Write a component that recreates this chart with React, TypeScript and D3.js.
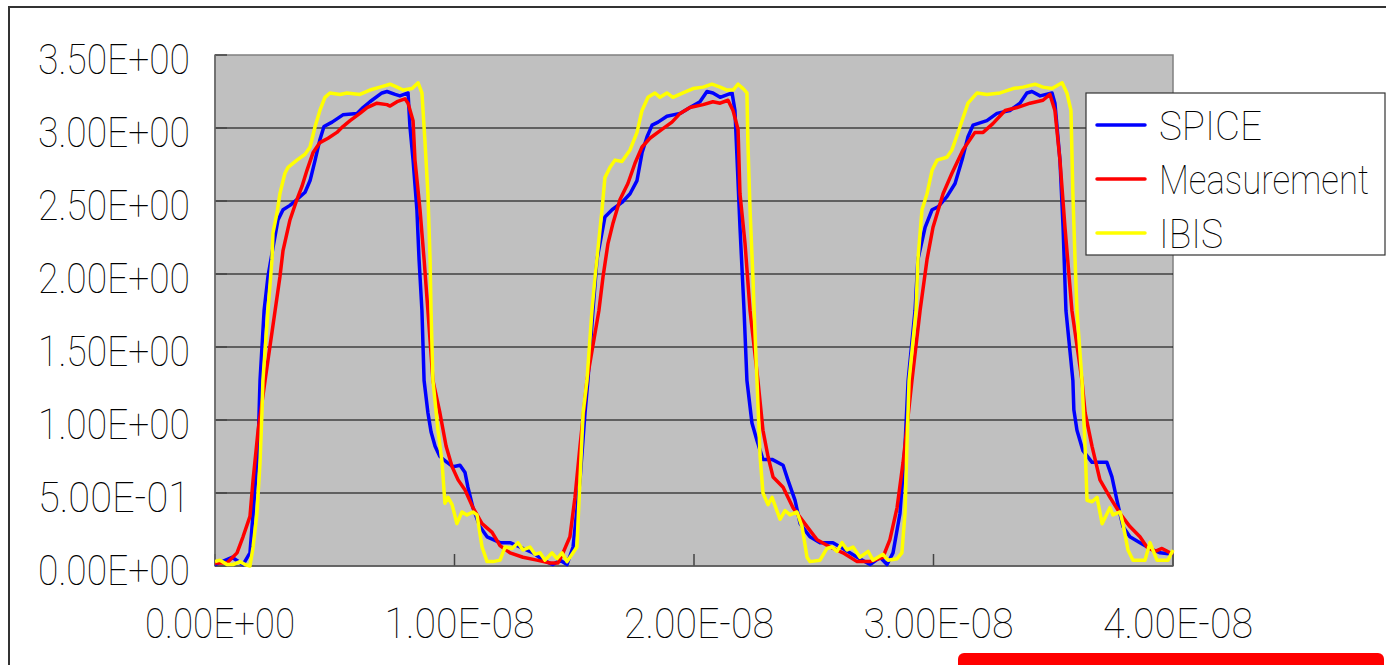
import React from "react";
import * as d3 from "d3";

// time in ns, voltage in V
const spice: [number, number][] = [
  [0, 0.01], [0.71, 0.06], [1.17, 0.01], [1.46, 0.09], [1.59, 0.36], [1.8, 0.82], [1.88, 1.27], [2.05, 1.75], [2.21, 1.98], [2.42, 2.18],
  [2.63, 2.37], [2.84, 2.44], [3.13, 2.47], [3.42, 2.51], [3.76, 2.56], [3.97, 2.64], [4.18, 2.78], [4.38, 2.92], [4.55, 3.01], [4.89, 3.04],
  [5.34, 3.09], [5.93, 3.1], [6.18, 3.14], [6.47, 3.18], [6.97, 3.24], [7.18, 3.25], [7.52, 3.23], [7.72, 3.22], [8.06, 3.24], [8.14, 3.01],
  [8.27, 2.78], [8.43, 2.44], [8.52, 2.1], [8.64, 1.75], [8.73, 1.27], [8.89, 1.05], [9.02, 0.92], [9.19, 0.82], [9.39, 0.75], [9.69, 0.71],
  [9.94, 0.68], [10.23, 0.69], [10.44, 0.64], [10.56, 0.54], [10.77, 0.4], [11.06, 0.27], [11.36, 0.2], [11.9, 0.16], [12.32, 0.16], [12.73, 0.13],
  [13.28, 0.09], [13.7, 0.04], [14.11, 0.01], [14.41, 0.04], [14.7, 0.01], [14.95, 0.13], [15.24, 0.59], [15.45, 1.05], [15.57, 1.27],
  [15.78, 1.75], [15.95, 2.1], [16.28, 2.39], [16.58, 2.44], [16.99, 2.49], [17.33, 2.55], [17.62, 2.64], [17.83, 2.83], [18.04, 2.94], [18.25, 3.02],
  [18.5, 3.04], [18.87, 3.08], [19.42, 3.1], [19.83, 3.14], [20.25, 3.18], [20.54, 3.25], [20.79, 3.24], [21.09, 3.21], [21.59, 3.24], [21.71, 3.12],
  [21.8, 2.78], [21.92, 2.32], [22.09, 1.75], [22.21, 1.27], [22.42, 0.98], [22.63, 0.86], [22.88, 0.73], [23.26, 0.73], [23.72, 0.69], [23.92, 0.59],
  [24.22, 0.45], [24.43, 0.29], [24.84, 0.2], [25.26, 0.16], [25.8, 0.16], [26.22, 0.12], [26.81, 0.06], [27.35, 0.01], [27.77, 0.06], [28.06, 0.01],
  [28.31, 0.09], [28.6, 0.36], [28.81, 0.82], [28.94, 1.27],
  [29.23, 1.75], [29.35, 2.1], [29.65, 2.32], [29.94, 2.44], [30.19, 2.46], [30.56, 2.53], [30.9, 2.62], [31.19, 2.78], [31.44, 2.94], [31.65, 3.02],
  [32.23, 3.05], [32.65, 3.1], [33.19, 3.12], [33.61, 3.17], [33.9, 3.24], [34.11, 3.25], [34.45, 3.22], [34.95, 3.24], [35.07, 3.17], [35.28, 2.78],
  [35.41, 2.32], [35.53, 1.75], [35.82, 1.27], [35.86, 1.07], [35.99, 0.93], [36.24, 0.79], [36.62, 0.71], [37.24, 0.71], [37.45, 0.61], [37.66, 0.45],
  [37.91, 0.27], [38.2, 0.2], [38.62, 0.16], [39.04, 0.12], [39.46, 0.09], [40, 0.08],
];

const measurement: [number, number][] = [
  [0, 0.02], [0.5, 0.02], [0.92, 0.09], [1.17, 0.2], [1.46, 0.34], [1.59, 0.59], [1.8, 0.93], [2.09, 1.27], [2.51, 1.75], [2.71, 1.98],
  [2.84, 2.16], [3.13, 2.37], [3.42, 2.51], [3.63, 2.6], [3.84, 2.71], [4.09, 2.83], [4.38, 2.9], [4.72, 2.93], [5.09, 2.97], [5.34, 3.01],
  [5.64, 3.05], [6.05, 3.1], [6.35, 3.14], [6.76, 3.17], [7.18, 3.16], [7.31, 3.15], [7.6, 3.18], [7.93, 3.2], [8.06, 3.17], [8.27, 3.05],
  [8.35, 2.78], [8.56, 2.44], [8.73, 2.1], [8.89, 1.75], [9.1, 1.27], [9.39, 1.05], [9.65, 0.82], [9.9, 0.68], [10.15, 0.59], [10.44, 0.52],
  [10.77, 0.4], [11.15, 0.29], [11.57, 0.23], [11.9, 0.14], [12.32, 0.09], [12.86, 0.06], [13.44, 0.04], [13.99, 0.02], [14.32, 0.02], [14.53, 0.09],
  [14.82, 0.2], [15.03, 0.47], [15.24, 0.82], [15.53, 1.27],
  [16.03, 1.75], [16.2, 1.98], [16.41, 2.21], [16.62, 2.35], [16.91, 2.51], [17.24, 2.62], [17.54, 2.76], [17.83, 2.87], [18.16, 2.93], [18.66, 2.99],
  [19.08, 3.04], [19.42, 3.1], [19.83, 3.14], [20.38, 3.16], [20.79, 3.18], [21.09, 3.17], [21.42, 3.19], [21.63, 3.12], [21.84, 2.99], [21.92, 2.55],
  [22.13, 2.21], [22.34, 1.75], [22.67, 1.27], [22.88, 0.93], [23.09, 0.75], [23.3, 0.61], [23.72, 0.54], [24.13, 0.4], [24.72, 0.27], [25.14, 0.18],
  [25.68, 0.13], [26.22, 0.09], [26.81, 0.03], [27.35, 0.03], [27.89, 0.06], [28.18, 0.18], [28.48, 0.4], [28.73, 0.71], [29.1, 1.27],
  [29.44, 1.75], [29.73, 2.1], [29.98, 2.32], [30.4, 2.55], [30.77, 2.69], [31.23, 2.85], [31.73, 2.97], [32.07, 2.97], [32.48, 3.03], [32.99, 3.12],
  [33.49, 3.14], [34.03, 3.17], [34.57, 3.19], [34.86, 3.23], [35.07, 3.12], [35.28, 2.78], [35.49, 2.32], [35.78, 1.75], [36.2, 1.27], [36.33, 1.05],
  [36.62, 0.82], [36.95, 0.59], [37.37, 0.47], [37.79, 0.36], [38.2, 0.27], [38.62, 0.2], [38.91, 0.13], [39.25, 0.1], [39.54, 0.12], [40, 0.08],
];

const ibis: [number, number][] = [
  [0, 0.03], [0.21, 0.04], [0.5, 0.01], [0.75, 0.01], [1.04, 0.03], [1.25, 0.01], [1.46, 0.0], [1.59, 0.13], [1.75, 0.36], [1.88, 0.71],
  [1.96, 1.05], [2.0, 1.27], [2.21, 1.75], [2.38, 2.1], [2.42, 2.28], [2.59, 2.42], [2.71, 2.55], [2.92, 2.69], [3.05, 2.73], [3.42, 2.78],
  [3.76, 2.82], [3.97, 2.87], [4.18, 3.01], [4.38, 3.12], [4.59, 3.21], [4.8, 3.24], [5.22, 3.23], [5.51, 3.24], [6.05, 3.23], [6.47, 3.26],
  [6.89, 3.28], [7.31, 3.3], [7.6, 3.28], [7.85, 3.26], [8.23, 3.27], [8.48, 3.31], [8.64, 3.24], [8.77, 2.9], [8.89, 2.55], [8.98, 2.1],
  [9.02, 1.75], [9.1, 1.27], [9.31, 0.93], [9.48, 0.71], [9.6, 0.43], [9.73, 0.47], [9.9, 0.42], [10.1, 0.29], [10.31, 0.37], [10.52, 0.35],
  [10.77, 0.37], [10.94, 0.35], [11.15, 0.13], [11.36, 0.03], [11.61, 0.03], [11.9, 0.04], [12.11, 0.13], [12.4, 0.12], [12.65, 0.16], [12.86, 0.11],
  [13.15, 0.13], [13.36, 0.08], [13.57, 0.09], [13.78, 0.04], [14.07, 0.09], [14.28, 0.05], [14.49, 0.09], [14.7, 0.03], [14.95, 0.09], [15.11, 0.13],
  [15.24, 0.59], [15.37, 1.05], [15.53, 1.27],
  [15.74, 1.75], [15.87, 1.98], [16.16, 2.44], [16.28, 2.66], [16.49, 2.73], [16.7, 2.78], [16.99, 2.77], [17.33, 2.85], [17.62, 2.97], [17.83, 3.12],
  [18.08, 3.21], [18.37, 3.24], [18.58, 3.21], [18.87, 3.24], [19.12, 3.21], [19.54, 3.24], [19.96, 3.27], [20.38, 3.28], [20.75, 3.3], [21.09, 3.28],
  [21.38, 3.26], [21.63, 3.26], [21.84, 3.3], [22.05, 3.27], [22.21, 3.24], [22.25, 2.9], [22.34, 2.44], [22.46, 1.98], [22.51, 1.75], [22.63, 1.27],
  [22.76, 0.75], [22.88, 0.5], [23.09, 0.42], [23.26, 0.47], [23.59, 0.32], [23.8, 0.38], [24.01, 0.35], [24.3, 0.37], [24.51, 0.27], [24.72, 0.06],
  [24.84, 0.03], [25.26, 0.04], [25.55, 0.12], [25.76, 0.13], [25.97, 0.1], [26.18, 0.16], [26.39, 0.11], [26.64, 0.13], [26.93, 0.06], [27.27, 0.1],
  [27.47, 0.04], [27.89, 0.08], [28.1, 0.04], [28.48, 0.05], [28.68, 0.09], [28.81, 0.36], [28.89, 0.82], [28.98, 1.27],
  [29.27, 1.75], [29.35, 2.1], [29.52, 2.44], [29.73, 2.55], [29.94, 2.71], [30.15, 2.78], [30.56, 2.8], [30.77, 2.85], [31.11, 3.01], [31.44, 3.17],
  [31.82, 3.24], [32.23, 3.23], [32.78, 3.24], [33.32, 3.27], [33.74, 3.28], [34.24, 3.3], [34.57, 3.28], [34.95, 3.27], [35.37, 3.31], [35.57, 3.24],
  [35.74, 3.12], [35.82, 2.55], [35.91, 2.1], [35.99, 1.75], [36.2, 1.27], [36.33, 0.82], [36.41, 0.45], [36.62, 0.44], [36.83, 0.47], [37.04, 0.29],
  [37.37, 0.4], [37.49, 0.35], [37.79, 0.37], [37.91, 0.29], [38.12, 0.11], [38.33, 0.04], [38.83, 0.04], [39.04, 0.16], [39.33, 0.04], [39.79, 0.04],
  [40, 0.11],
];

const seriesNames = ["SPICE", "Measurement", "IBIS"];
const seriesColors = ["#0000ff", "#ff0000", "#ffff00"];

const yTicks = [0, 0.5, 1, 1.5, 2, 2.5, 3, 3.5];
const yTickLabels = ["0.00E+00", "5.00E-01", "1.00E+00", "1.50E+00", "2.00E+00", "2.50E+00", "3.00E+00", "3.50E+00"];
const xTicks = [0, 10, 20, 30, 40];
const xTickLabels = ["0.00E+00", "1.00E-08", "2.00E-08", "3.00E-08", "4.00E-08"];

const W = 1386;
const H = 665;
const plot = { left: 215, right: 1173, top: 55, bottom: 566 };
const font = "Roboto, 'DejaVu Sans', sans-serif";

export default function App() {
  const x = d3.scaleLinear().domain([0, 40]).range([plot.left, plot.right]);
  const y = d3.scaleLinear().domain([0, 3.5]).range([plot.bottom, plot.top]);
  const line = d3
    .line<[number, number]>()
    .x((d) => x(d[0]))
    .y((d) => y(d[1]));
  const allSeries = [spice, measurement, ibis];
  const legendTextWidths = [103, 210, 64];

  return (
    <svg
      width={W}
      height={H}
      style={{ position: "absolute", left: 0, top: 0, background: "#fff" }}
    >
      <defs>
        <clipPath id="plotClip">
          <rect x={plot.left} y={plot.top - 4} width={plot.right - plot.left + 2} height={plot.bottom - plot.top + 6} />
        </clipPath>
      </defs>

      {/* outer frame */}
      <rect x={9} y={7} width={W + 20} height={H + 20} fill="none" stroke="#333" strokeWidth={2} />

      {/* plot area */}
      <rect
        x={plot.left}
        y={plot.top}
        width={plot.right - plot.left}
        height={plot.bottom - plot.top}
        fill="#c0c0c0"
        stroke="#808080"
        strokeWidth={1.5}
      />
      {yTicks
        .filter((v) => v > 0 && v < 3.5)
        .map((v) => (
          <line key={"g" + v} x1={plot.left} x2={plot.right} y1={y(v)} y2={y(v)} stroke="#000" strokeWidth={1.2} />
        ))}
      {yTicks.map((v) => (
        <line key={"yt" + v} x1={plot.left} x2={plot.left + 12} y1={y(v)} y2={y(v)} stroke="#444" strokeWidth={1.5} />
      ))}
      {xTicks.map((t) => (
        <line key={"xt" + t} x1={x(t)} x2={x(t)} y1={plot.bottom} y2={plot.bottom - 12} stroke="#444" strokeWidth={1.5} />
      ))}
      <line x1={plot.left} x2={plot.left} y1={plot.top} y2={plot.bottom} stroke="#666" strokeWidth={1.5} />
      <line x1={plot.left} x2={plot.right} y1={plot.bottom} y2={plot.bottom} stroke="#555" strokeWidth={1.5} />

      {/* series */}
      <g clipPath="url(#plotClip)">
        {allSeries.map((s, i) => (
          <path
            key={seriesNames[i]}
            d={line(s) || ""}
            fill="none"
            stroke={seriesColors[i]}
            strokeWidth={3.5}
            strokeLinejoin="round"
          />
        ))}
      </g>

      {/* axis labels */}
      {yTicks.map((v, i) => (
        <text
          key={"yl" + v}
          x={190}
          y={y(v) + 19}
          textAnchor="end"
          fontFamily={font}
          fontWeight={100}
          fontSize={42}
          textLength={152}
          lengthAdjust="spacingAndGlyphs"
          fill="#000"
        >
          {yTickLabels[i]}
        </text>
      ))}
      {xTicks.map((t, i) => (
        <text
          key={"xl" + t}
          x={x(t) + 5}
          y={638}
          textAnchor="middle"
          fontFamily={font}
          fontWeight={100}
          fontSize={42}
          textLength={150}
          lengthAdjust="spacingAndGlyphs"
          fill="#000"
        >
          {xTickLabels[i]}
        </text>
      ))}

      {/* legend */}
      <rect x={1086} y={93} width={299} height={162} fill="#fff" stroke="#333" strokeWidth={1.2} />
      {seriesNames.map((name, i) => {
        const ly = 125 + i * 54;
        return (
          <g key={"lg" + name}>
            <line x1={1097} x2={1145} y1={ly} y2={ly} stroke={seriesColors[i]} strokeWidth={3.5} strokeLinecap="round" />
            <text
              x={1159}
              y={ly + 15}
              fontFamily={font}
              fontWeight={100}
              fontSize={40}
              textLength={legendTextWidths[i]}
              lengthAdjust="spacingAndGlyphs"
              fill="#000"
            >
              {name}
            </text>
          </g>
        );
      })}

      {/* red bar at the bottom edge */}
      <rect x={958} y={653} width={426} height={30} rx={6} fill="#ff0000" />
    </svg>
  );
}
